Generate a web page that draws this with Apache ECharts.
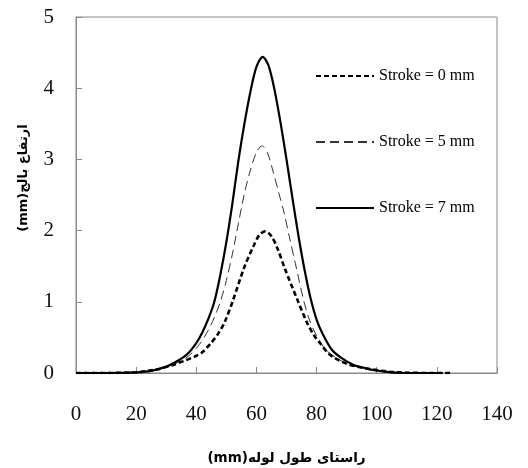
<!DOCTYPE html>
<html>
<head>
<meta charset="utf-8">
<script src="https://cdn.jsdelivr.net/npm/echarts@6/dist/echarts.min.js"></script>
<style>html,body{margin:0;padding:0;background:#fff}#c{width:528px;height:468px}</style>
</head>
<body>
<div id="c"></div>
<script>
var seriesNames = ["Stroke = 0 mm", "Stroke = 5 mm", "Stroke = 7 mm"];
var xTitle = "(mm)راستای طول لوله";
var yTitle = "(mm)ارتفاع بالج";

var x0 = [0, 10, 20, 24, 28, 32, 36, 39.4, 41.7, 44.9, 47.4, 49.5, 52.2, 56, 59, 61, 63, 65, 67, 69.5, 73.7, 76.9, 79.3, 81.5, 83.6, 85.7, 90, 94.5, 100, 105, 110, 118, 125];
var y0 = [0, 0, 0.01, 0.03, 0.06, 0.11, 0.17, 0.23, 0.28, 0.42, 0.56, 0.72, 1.02, 1.49, 1.78, 1.94, 1.99, 1.92, 1.75, 1.46, 1.02, 0.7, 0.52, 0.4, 0.29, 0.22, 0.13, 0.08, 0.04, 0.015, 0.005, 0, 0];

var x5 = [0, 10, 20, 26, 31, 35, 38, 41, 44, 46, 48, 50, 52, 54, 56, 58, 60, 61.8, 63.6, 65.6, 67.5, 69.2, 71, 73.2, 75.7, 77.5, 79.7, 83, 87, 91, 95, 100, 105, 110, 120];
var y5 = [0, 0, 0.01, 0.04, 0.1, 0.17, 0.26, 0.4, 0.6, 0.78, 1.0, 1.3, 1.67, 2.1, 2.52, 2.85, 3.1, 3.19, 3.1, 2.82, 2.52, 2.25, 1.9, 1.49, 1.02, 0.76, 0.55, 0.33, 0.2, 0.12, 0.07, 0.03, 0.01, 0, 0];

var x7 = [0, 10, 20, 25, 30, 33, 36, 38, 40, 42, 44, 46, 48, 50, 52, 54, 56, 58, 60, 62.1, 64, 66, 68, 70, 72, 74, 76, 78, 80, 82, 85, 88, 92, 96, 100, 105, 110, 122];
var y7 = [0, 0, 0.01, 0.03, 0.09, 0.15, 0.23, 0.31, 0.42, 0.57, 0.76, 1.0, 1.38, 1.84, 2.38, 2.98, 3.5, 3.95, 4.3, 4.44, 4.32, 3.98, 3.52, 3.0, 2.45, 1.92, 1.45, 1.05, 0.75, 0.55, 0.33, 0.22, 0.12, 0.07, 0.035, 0.01, 0, 0];

var xTicks = {min: 0, max: 140, interval: 20};
var yTicks = {min: 0, max: 5, interval: 1};

function pairs(xs, ys) { return xs.map(function (v, i) { return [v, ys[i]]; }); }

var chart = echarts.init(document.getElementById('c'), null, {renderer: 'canvas'});
var axisColor = '#8a8a8a';
var serif = '"Liberation Serif", "Times New Roman", serif';
chart.setOption({
  animation: false,
  backgroundColor: '#fff',
  color: ['#000', '#333', '#000'],
  grid: {left: 76, right: 31, top: 17, bottom: 95, show: true, borderColor: axisColor, borderWidth: 1,
         containLabel: false, outerBoundsMode: 'none'},
  legend: {
    orient: 'vertical', left: 310, top: 63, itemWidth: 58, itemHeight: 14, itemGap: 50,
    data: seriesNames,
    itemStyle: {opacity: 0},
    textStyle: {fontFamily: serif, fontSize: 16, color: '#000'}
  },
  xAxis: {
    type: 'value', min: xTicks.min, max: xTicks.max, interval: xTicks.interval,
    name: xTitle, nameLocation: 'middle', nameGap: 78,
    nameTextStyle: {fontFamily: '"DejaVu Sans", sans-serif', fontWeight: 'bold', fontSize: 13.5, color: '#000'},
    axisLine: {show: true, lineStyle: {color: axisColor, width: 1}},
    axisTick: {show: true, inside: true, length: 6, lineStyle: {color: axisColor}},
    axisLabel: {fontFamily: serif, fontSize: 21, color: '#111', margin: 31},
    splitLine: {show: false}
  },
  yAxis: {
    type: 'value', min: yTicks.min, max: yTicks.max, interval: yTicks.interval,
    name: yTitle, nameLocation: 'middle', nameGap: 46, nameRotate: 90,
    nameTextStyle: {fontFamily: '"DejaVu Sans", sans-serif', fontWeight: 'bold', fontSize: 13, color: '#000', padding: [0, 0, 0, 34]},
    axisLine: {show: true, lineStyle: {color: axisColor, width: 1}},
    axisTick: {show: true, inside: true, length: 6, lineStyle: {color: axisColor}},
    axisLabel: {fontFamily: serif, fontSize: 21, color: '#111', margin: 22},
    splitLine: {show: false}
  },
  series: [
    {name: seriesNames[0], type: 'line', symbol: 'none', smooth: 0.3,
     data: pairs(x0, y0), itemStyle: {color: '#000'}, lineStyle: {color: '#000', width: 2.6, type: [5, 3]}, z: 3},
    {name: seriesNames[1], type: 'line', symbol: 'none', smooth: 0.3,
     data: pairs(x5, y5), itemStyle: {color: '#333'}, lineStyle: {color: '#333', width: 1, type: [9, 5]}, z: 2},
    {name: seriesNames[2], type: 'line', symbol: 'none', smooth: 0.3,
     data: pairs(x7, y7), itemStyle: {color: '#000'}, lineStyle: {color: '#000', width: 2.2, type: 'solid'}, z: 4}
  ]
});
</script>
</body>
</html>
